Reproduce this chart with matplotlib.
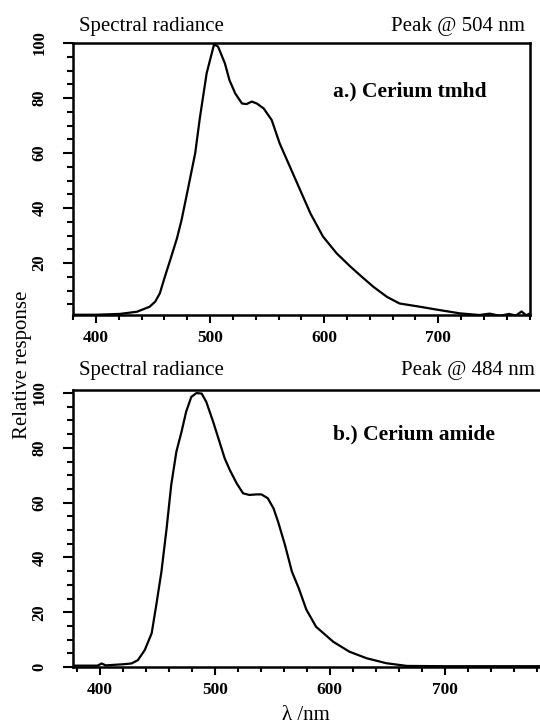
import numpy as np
import matplotlib.pyplot as plt
from matplotlib.ticker import MultipleLocator

# spectrum a.) Cerium tmhd (read from the picture)
wl_a = [380, 400, 421, 436, 447, 452, 456, 460, 465, 471, 475, 481, 487, 491, 497, 503.5,
        507, 513, 517, 522, 528, 532, 536.5, 541, 547, 554, 561, 570, 579, 588, 599,
        611, 623, 633, 643, 655, 666, 684, 701, 719, 736, 745, 754, 762, 768, 773, 777, 780]
rr_a = [1.2, 1.2, 1.5, 2.3, 4.1, 6.0, 9.0, 14.5, 21, 29, 35.6, 47.7, 60, 72.6, 89, 99.5,
        98.7, 92.6, 86.5, 81.7, 78, 77.8, 78.7, 78, 76.2, 72, 63.5, 55, 46.5, 38, 29.6,
        23.5, 18.7, 15, 11.4, 7.7, 5.3, 4.1, 2.9, 1.7, 1.1, 1.6, 0.8, 1.5, 0.9, 2.4, 1.0, 1.6]

# spectrum b.) Cerium amide
wl_b = [376, 398, 401.5, 405, 420, 427.5, 433, 439, 445, 449, 453.5, 458, 462, 466.5,
        471, 475, 479.5, 484, 488.5, 492.5, 498.5, 504, 508.5, 513, 519, 524.5, 530,
        536, 540.5, 546, 551, 555, 561, 567, 573, 579.5, 588, 603, 617, 632, 649, 667, 700, 790]
rr_b = [0.5, 0.5, 1.3, 0.6, 1.0, 1.3, 2.5, 6.2, 12.3, 22.6, 34.8, 50.6, 66.4, 78.6,
        85.9, 93.2, 98.6, 100, 99.8, 96.8, 89.5, 82.2, 76.2, 71.9, 67, 63.4, 62.8,
        63, 63, 61.6, 57.9, 53, 44.5, 34.8, 28.7, 21, 14.7, 9.2, 5.6, 3.2, 1.4, 0.4, 0.3, 0.3]

xticks = [400, 500, 600, 700]

plt.rcParams['font.family'] = ['Liberation Serif', 'DejaVu Serif']

fig = plt.figure(figsize=(5.4, 7.24), dpi=100)
ax1 = fig.add_axes([0.1346, 0.5649, 0.8469, 0.3757])
ax2 = fig.add_axes([0.1346, 0.0787, 0.8854, 0.3826])

ax1.plot(wl_a, rr_a, color='black', lw=1.6)
ax1.set_xlim(379.6, 780.4)
ax1.set_ylim(1.1, 100)
ax1.set_yticks([20, 40, 60, 80, 100])
ax1.text(0.57, 0.82, 'a.) Cerium tmhd', transform=ax1.transAxes, fontsize=15.5,
         fontweight='bold', ha='left', va='center')

ax2.plot(wl_b, rr_b, color='black', lw=1.6)
ax2.set_xlim(376.3, 792.2)
ax2.set_ylim(0, 101.1)
ax2.set_yticks([0, 20, 40, 60, 80, 100])
ax2.spines['right'].set_visible(False)
ax2.text(0.545, 0.84, 'b.) Cerium amide', transform=ax2.transAxes, fontsize=15.5,
         fontweight='bold', ha='left', va='center')

for ax in (ax1, ax2):
    for s in ax.spines.values():
        s.set_linewidth(1.8)
    ax.set_xticks(xticks)
    ax.xaxis.set_minor_locator(MultipleLocator(20))
    ax.yaxis.set_minor_locator(MultipleLocator(5))
    ax.tick_params(axis='both', which='both', direction='out', top=False, right=False, width=1.5)
    ax.tick_params(axis='x', which='major', length=6, pad=5, labelsize=12.5)
    ax.tick_params(axis='x', which='minor', length=3.5)
    ax.tick_params(axis='y', which='major', length=7, pad=11, labelsize=12)
    ax.tick_params(axis='y', which='minor', length=4)
    for lab in ax.get_xticklabels() + ax.get_yticklabels():
        lab.set_fontweight('bold')
    for lab in ax.get_yticklabels():
        lab.set_rotation(90)
        lab.set_va('center')

fig.text(0.146, 0.964, 'Spectral radiance', fontsize=15, ha='left', va='center')
fig.text(0.972, 0.964, 'Peak @ 504 nm', fontsize=15, ha='right', va='center')
fig.text(0.146, 0.488, 'Spectral radiance', fontsize=15, ha='left', va='center')
fig.text(0.99, 0.488, 'Peak @ 484 nm', fontsize=15, ha='right', va='center')
fig.text(0.041, 0.496, 'Relative response', fontsize=15, rotation=90, ha='center', va='center')
fig.text(0.567, 0.012, 'λ /nm', fontsize=15, ha='center', va='center')

fig.savefig('out.png', dpi=100)
